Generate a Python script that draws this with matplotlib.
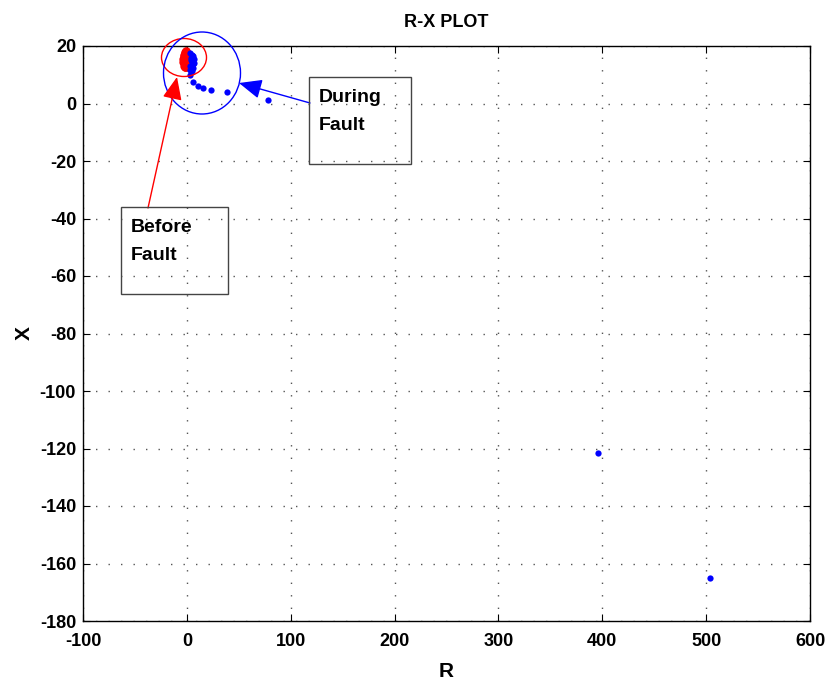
import matplotlib
matplotlib.use('Agg')
import matplotlib.pyplot as plt
from matplotlib.patches import Ellipse, Rectangle, FancyArrowPatch

plt.rcParams['font.family'] = ['Liberation Sans', 'DejaVu Sans']
plt.rcParams['font.weight'] = 'bold'
plt.rcParams['axes.unicode_minus'] = False

# impedance trajectory before the fault (R, X)
r_before = [-3.0, -2.5, -2.0, -1.5, -1.0, -0.5, 0.0, 0.5, 1.0, -3.2, -2.8, -2.2,
            -1.6, -1.0, -0.4, 0.2, 0.8, -2.6, -2.0, -1.4, -0.8, -0.2, 0.4, -1.8,
            -1.0, -0.2, -2.4, -1.2, 0.0, -0.6, -4.0, -3.8, 1.5, 1.2]
x_before = [15.0, 16.5, 17.5, 18.0, 18.2, 17.8, 17.0, 16.0, 15.0, 14.0, 13.2, 12.8,
            12.6, 12.8, 13.2, 13.8, 14.2, 17.0, 15.5, 14.5, 16.0, 15.0, 17.2, 13.5,
            14.0, 12.9, 15.8, 16.8, 15.6, 18.3, 15.5, 14.5, 16.5, 13.5]

# impedance trajectory during the fault
r_during = [3.0, 4.5, 5.5, 6.5, 4.0, 5.0, 6.0, 3.5, 4.8, 6.2, 3.2, 5.2, 4.2, 6.8,
            3.0, 6.2, 11.0, 15.8, 23.5, 39.0, 78.0, 396.0, 504.0]
x_during = [17.6, 17.0, 16.4, 15.6, 15.0, 14.4, 13.8, 13.2, 12.6, 12.2, 11.6, 11.3,
            16.0, 14.0, 9.9, 7.6, 6.2, 5.3, 4.8, 3.9, 1.3, -121.6, -165.0]

xticks = [-100, 0, 100, 200, 300, 400, 500, 600]
yticks = [-180, -160, -140, -120, -100, -80, -60, -40, -20, 0, 20]

W, H = 830, 686
fig = plt.figure(figsize=(W / 100, H / 100), dpi=100)
ax = fig.add_axes([83 / W, 1 - 621 / H, 727 / W, 575 / H])

ax.plot(r_before, x_before, 'o', color='red', markersize=6, markeredgewidth=0)
ax.plot(r_during, x_during, 'o', color='blue', markersize=4.5, markeredgewidth=0)

ax.set_xlim(-100, 600)
ax.set_ylim(-180, 20)
ax.set_xticks(xticks)
ax.set_yticks(yticks)
ax.tick_params(direction='in', top=True, right=True, length=5, labelsize=13)
ax.tick_params(axis='x', pad=9)
ax.tick_params(axis='y', pad=5)
ax.grid(True, linestyle=(0, (1, 8)), color='#555555', linewidth=1.0)
for s in ax.spines.values():
    s.set_linewidth(1.0)

ax.set_title('R-X PLOT', fontsize=13, fontweight='bold', pad=14)
ax.set_xlabel('R', fontsize=15, fontweight='bold', labelpad=8)
ax.set_ylabel('X', fontsize=15, fontweight='bold', labelpad=4)


def fx(px):
    return px / W


def fy(py):
    return 1 - py / H


tf = fig.transFigure

# circles marking the two regions
fig.patches.append(Ellipse((fx(184), fy(57.5)), 45 / W, 38 / H, fill=False,
                           edgecolor='red', linewidth=1.0, transform=tf))
fig.patches.append(Ellipse((fx(202), fy(73)), 77 / W, 82 / H, fill=False,
                           edgecolor='blue', linewidth=1.0, transform=tf))

# arrows from the text boxes
fig.patches.append(FancyArrowPatch((fx(148), fy(208)), (fx(177), fy(77)),
                                   arrowstyle='-|>,head_length=14,head_width=6',
                                   color='red', linewidth=1.0, transform=tf,
                                   shrinkA=0, shrinkB=0))
fig.patches.append(FancyArrowPatch((fx(310), fy(103)), (fx(239), fy(83)),
                                   arrowstyle='-|>,head_length=14,head_width=6',
                                   color='blue', linewidth=1.0, transform=tf,
                                   shrinkA=0, shrinkB=0))

# text boxes
fig.patches.append(Rectangle((fx(309), fy(164)), 102 / W, 87 / H, fill=False,
                             edgecolor='#444444', linewidth=1.0, transform=tf))
fig.patches.append(Rectangle((fx(121), fy(294)), 107 / W, 87 / H, fill=False,
                             edgecolor='#444444', linewidth=1.0, transform=tf))
fig.text(fx(319), fy(98), 'During', fontsize=14, va='center', ha='left')
fig.text(fx(319), fy(126), 'Fault', fontsize=14, va='center', ha='left')
fig.text(fx(131), fy(228), 'Before', fontsize=14, va='center', ha='left')
fig.text(fx(131), fy(256), 'Fault', fontsize=14, va='center', ha='left')

fig.savefig('out.png', dpi=100)
